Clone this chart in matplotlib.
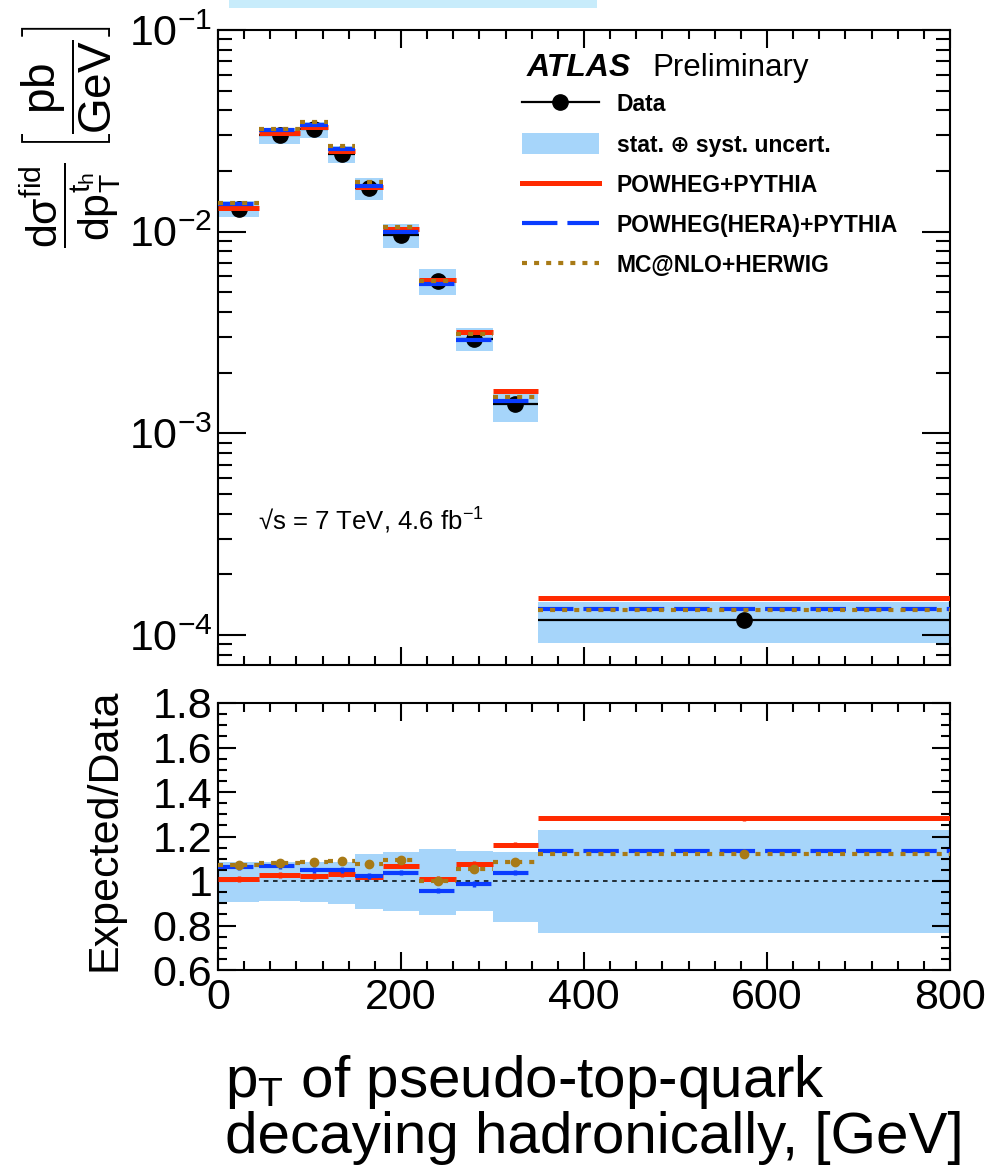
import numpy as np
import matplotlib
matplotlib.use('Agg')
import matplotlib.pyplot as plt
from matplotlib.lines import Line2D
from matplotlib.patches import Patch, Rectangle
from matplotlib.ticker import MultipleLocator, LogLocator, FuncFormatter, NullFormatter

plt.rcParams['font.family'] = ['Liberation Sans', 'DejaVu Sans']
plt.rcParams['mathtext.fontset'] = 'custom'
plt.rcParams['mathtext.rm'] = 'Liberation Sans'
plt.rcParams['mathtext.it'] = 'Liberation Sans:italic'
plt.rcParams['mathtext.bf'] = 'Liberation Sans:bold'
plt.rcParams['mathtext.sf'] = 'Liberation Sans'

# bin edges of pT(t_had) [GeV]
edges = np.array([0, 45, 90, 120, 150, 180, 220, 260, 300, 350, 800])
# measured d(sigma)/dpT [pb/GeV]
data = np.array([0.0130, 0.0300, 0.0323, 0.0244, 0.0164, 0.0096, 0.00572, 0.00295, 0.00139, 0.000119])
# total uncertainty band relative to data
unc_up = np.array([1.087, 1.087, 1.084, 1.087, 1.120, 1.131, 1.146, 1.134, 1.132, 1.231])
unc_dn = np.array([0.907, 0.912, 0.904, 0.897, 0.875, 0.867, 0.848, 0.863, 0.817, 0.766])
# expected / data
r_powheg = np.array([1.009, 1.027, 1.022, 1.030, 1.020, 1.069, 1.010, 1.076, 1.164, 1.281])
r_hera = np.array([1.061, 1.067, 1.049, 1.049, 1.022, 1.037, 0.957, 0.987, 1.037, 1.134])
r_mcnlo = np.array([1.072, 1.082, 1.084, 1.090, 1.076, 1.094, 1.000, 1.052, 1.087, 1.121])

labels = ['Data', 'stat. \u2295 syst. uncert.', 'POWHEG+PYTHIA',
          'POWHEG(HERA)+PYTHIA', 'MC@NLO+HERWIG']

c_band = '#a6d5fa'
c_red = '#ff2a00'
c_blue = '#0a3cff'
c_brown = '#a87a16'
ls_blue = (0, (8.5, 2.4))
ls_brown = (0, (1.2, 1.7))

lo = edges[:-1]
hi = edges[1:]
ctr = 0.5 * (lo + hi)
W, H = 985, 1172

fig = plt.figure(figsize=(9.85, 11.72), dpi=100)
ax = fig.add_axes([218 / W, 1 - 665 / H, 732 / W, 635 / H])
rx = fig.add_axes([218 / W, 1 - 970 / H, 732 / W, 267 / H])

# ---- top panel
ax.bar(lo, data * (unc_up - unc_dn), bottom=data * unc_dn, width=hi - lo,
       align='edge', color=c_band, lw=0, zorder=1)
ax.hlines(data, lo, hi, colors='k', lw=1.6, zorder=2)
ax.errorbar(ctr, data, yerr=0.01 * data, fmt='o', color='k', ms=11, lw=1.6, zorder=3)
ax.hlines(data * r_powheg, lo, hi, colors=c_red, lw=3.6, zorder=4)
ax.hlines(data * r_hera, lo, hi, colors=c_blue, lw=3, linestyles=[ls_blue], zorder=5)
ax.hlines(data * r_mcnlo, lo, hi, colors=c_brown, lw=3, linestyles=[ls_brown], zorder=6)

ax.set_yscale('log')
ax.set_xlim(0, 800)
ax.set_ylim(7.1e-5, 0.1)
ax.xaxis.set_major_locator(MultipleLocator(200))
ax.xaxis.set_minor_locator(MultipleLocator(200 / 7))
ax.yaxis.set_major_locator(LogLocator(base=10))
ax.yaxis.set_minor_locator(LogLocator(base=10, subs=np.arange(2, 10)))
ax.yaxis.set_minor_formatter(NullFormatter())
ax.tick_params(which='both', direction='in', top=True, right=True, labelbottom=False,
               width=1.5, labelsize=31, pad=4)
ax.tick_params(axis='y', which='major', length=20)
ax.tick_params(axis='y', which='minor', length=10)
ax.tick_params(axis='x', which='major', length=13)
ax.tick_params(axis='x', which='minor', length=6.5)
for s in ax.spines.values():
    s.set_linewidth(1.5)

handles = [Line2D([], [], color='k', lw=1.6, marker='o', ms=11),
           Patch(facecolor=c_band, edgecolor='none'),
           Line2D([], [], color=c_red, lw=3.6),
           Line2D([], [], color=c_blue, lw=3, ls=ls_blue),
           Line2D([], [], color=c_brown, lw=3, ls=ls_brown)]
ax.legend(handles, labels, loc='upper left', bbox_to_anchor=((522 - 218) / 732, (665 - 93) / 635),
          frameon=False, borderpad=0, borderaxespad=0, handlelength=3.35, handletextpad=0.78,
          handleheight=1.05, labelspacing=0.73,
          prop=dict(family=['Liberation Sans', 'DejaVu Sans'], weight='bold', size=16.5))

fig.text(527 / W, 1 - 76 / H, 'ATLAS', fontsize=23, weight='bold', style='italic', va='baseline')
fig.text(652 / W, 1 - 76 / H, 'Preliminary', fontsize=22.5, va='baseline')
fig.text(258 / W, 1 - 530 / H, '\u221as = 7 TeV, 4.6 fb$^{-1}$', fontsize=18.5, va='baseline')

# ---- ratio panel
rx.bar(lo, unc_up - unc_dn, bottom=unc_dn, width=hi - lo, align='edge',
       color=c_band, lw=0, zorder=1)
rx.axhline(1, color='k', lw=1.1, ls=(0, (3, 3)), zorder=2)
rx.hlines(r_powheg, lo, hi, colors=c_red, lw=3.6, zorder=4)
rx.errorbar(ctr, r_powheg, yerr=0.012, fmt='none', ecolor=c_red, elinewidth=2.5, zorder=4)
rx.hlines(r_hera, lo, hi, colors=c_blue, lw=3, linestyles=[ls_blue], zorder=5)
rx.errorbar(ctr, r_hera, yerr=0.012, fmt='none', ecolor=c_blue, elinewidth=2.5, zorder=5)
rx.hlines(r_mcnlo, lo, hi, colors=c_brown, lw=3, linestyles=[ls_brown], zorder=6)
rx.errorbar(ctr, r_mcnlo, yerr=0.014, fmt='o', color=c_brown, ms=6, elinewidth=2.5, zorder=6)

rx.set_xlim(0, 800)
rx.set_ylim(0.6, 1.8)
rx.xaxis.set_major_locator(MultipleLocator(200))
rx.xaxis.set_minor_locator(MultipleLocator(200 / 7))
rx.yaxis.set_major_locator(MultipleLocator(0.2))
rx.yaxis.set_minor_locator(MultipleLocator(0.05))
rx.yaxis.set_major_formatter(FuncFormatter(lambda v, p: '%g' % round(v, 2)))
rx.tick_params(which='both', direction='in', top=True, right=True, width=1.5, labelsize=31)
rx.tick_params(axis='y', which='major', length=13, pad=4)
rx.tick_params(axis='y', which='minor', length=6.5)
rx.tick_params(axis='x', which='major', length=13, pad=6)
rx.tick_params(axis='x', which='minor', length=6.5)
for s in rx.spines.values():
    s.set_linewidth(1.5)

# axis titles
fig.text(70 / W, 1 - 205 / H,
         r'$\dfrac{\mathrm{dσ}^{\mathrm{fid}}}{\mathrm{dp}_{\mathrm{T}}^{\mathrm{t}_{\mathrm{h}}}}$',
         rotation=90, ha='center', va='center', fontsize=31)
fig.text(67 / W, 1 - 88 / H, r'$\left[\dfrac{\mathrm{pb}}{\mathrm{GeV}}\right]$',
         rotation=90, ha='center', va='center', fontsize=33)
fig.text(104 / W, 1 - 830 / H, 'Expected/Data', rotation=90, ha='center', va='center', fontsize=31)
fig.text(225 / W, 1 - 1097 / H, r'p$_\mathrm{T}$ of pseudo-top-quark', fontsize=42, va='baseline')
fig.text(225 / W, 1 - 1153 / H, 'decaying hadronically, [GeV]', fontsize=42, va='baseline')

fig.add_artist(Rectangle((229 / W, 1 - 8 / H), (597 - 229) / W, 8 / H,
                         transform=fig.transFigure, color='#c8ecfb', lw=0))

fig.savefig('out.png', dpi=100)
